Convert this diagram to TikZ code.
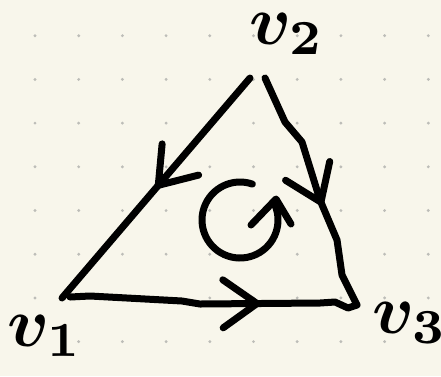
\documentclass[tikz,border=0pt]{standalone}
\usetikzlibrary{arrows.meta,decorations.markings}

\definecolor{paper}{HTML}{F8F6EB}
\definecolor{griddot}{HTML}{BDBDB8}

\begin{document}
\begin{tikzpicture}[
  x=1pt,y=-1pt,
  ink/.style={line width=7pt,line cap=round,line join=round,black},
  midarrow/.style={postaction={decorate},
    decoration={markings,mark=at position #1 with {\arrow{Straight Barb[length=34pt,width=48pt,line width=7pt,line cap=round,line join=round]}}}},
  lab/.style={font=\boldmath,scale=7,inner sep=0pt}
]

% hartie cu puncte
\fill[paper] (0,0) rectangle (441,376);
\useasboundingbox (0,0) rectangle (441,376);
\def\gap{43.7}   % pasul grilei
\foreach \i in {0,...,9}
  \foreach \j in {0,...,7}
    \fill[griddot] (35+\gap*\i,35.7+\gap*\j) circle (1.6);

% varfuri (v2 are doua capete, trasatura nu se inchide)
\coordinate (v1)  at (62,298);
\coordinate (v1b) at (70,297);
\coordinate (v2a) at (250,78);
\coordinate (v2b) at (265,78);
\coordinate (v3)  at (357,305);
\coordinate (rot) at (240,220);

% laturi orientate
\draw[ink,midarrow=0.5] (v2a) -- (v1);
\draw[ink,midarrow=0.57] (v2b) -- (285,122) -- (302,142) -- (320,200) -- (337,240) -- (342,275) -- (v3);
\draw[ink,midarrow=0.66] (v1b) -- (90,296) -- (182,301) -- (200,304) -- (320,303) -- (335,302) -- (348,308) -- (v3);

% sensul de parcurgere (arc + varf desenat de mana)
\draw[ink] (rot) ++(-71:38) arc[start angle=-71,end angle=-382,radius=38] coordinate (tip);
\draw[ink] (251,225) -- (276,199) -- (291,224);

% etichete
\node[lab,anchor=base west] (l1) at (6,346)   {$v_1$};
\node[lab,anchor=base west] (l2) at (248,44)  {$v_2$};
\node[lab,anchor=base west] (l3) at (371,333) {$v_3$};

\end{tikzpicture}
\end{document}
